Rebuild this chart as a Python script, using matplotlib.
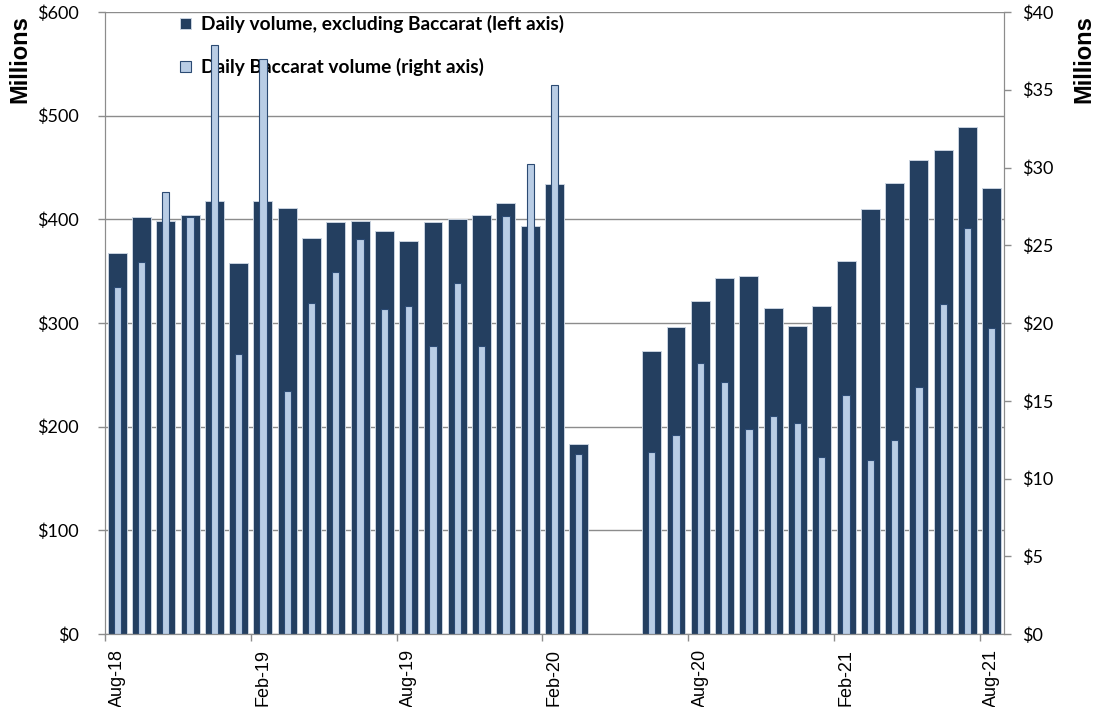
import numpy as np
import pandas as pd
import matplotlib
matplotlib.use("Agg")
import matplotlib.pyplot as plt
from matplotlib.ticker import FuncFormatter

# monthly categories Aug-18 .. Aug-21
months = pd.date_range("2018-08-01", "2021-08-01", freq="MS").strftime("%b-%y").tolist()

# daily volume excluding Baccarat, $ millions (left axis); Apr/May-20 closed
vol_ex_bacc = [368, 402, 398, 404, 418, 358, 418, 411, 382, 397, 398, 389, 379,
               397, 400, 404, 416, 394, 434, 183, np.nan, np.nan,
               273, 296, 321, 343, 345, 314, 297, 316, 360, 410, 435, 457, 467, 489, 430]
# daily Baccarat volume, $ millions (right axis)
vol_bacc = [22.3, 23.9, 28.4, 26.8, 37.9, 18.0, 37.0, 15.6, 21.3, 23.3, 25.4, 20.9, 21.1,
            18.5, 22.6, 18.5, 26.9, 30.2, 35.3, 11.6, np.nan, np.nan,
            11.7, 12.8, 17.4, 16.2, 13.2, 14.0, 13.6, 11.4, 15.4, 11.2, 12.5, 15.9, 21.2, 26.1, 19.7]

left_ticks = [0, 100, 200, 300, 400, 500, 600]
right_ticks = [0, 5, 10, 15, 20, 25, 30, 35, 40]

dark = "#243F60"
light = "#B9CDE5"
grey = "#8C8C8C"

fig = plt.figure(figsize=(10.99, 7.07), dpi=100)
ax = fig.add_axes([105/1099, 1-634/707, 899/1099, 622/707])
ax2 = ax.twinx()

x = np.arange(len(months))
b1 = ax.bar(x, vol_ex_bacc, width=0.78, color=dark, edgecolor="#C9D3E0", linewidth=0.7, zorder=2,
            label="Daily volume, excluding Baccarat (left axis)")
b2 = ax2.bar(x, vol_bacc, width=0.30, color=light, edgecolor="#2B4A73", linewidth=0.8, zorder=2,
             label="Daily Baccarat volume (right axis)")

ax.set_xlim(-0.5, len(months) - 0.5)
ax.set_ylim(0, 600)
ax2.set_ylim(0, 40)
ax.set_yticks(left_ticks)
ax2.set_yticks(right_ticks)
ax.yaxis.set_major_formatter(FuncFormatter(lambda v, p: f"${v:.0f}"))
ax2.yaxis.set_major_formatter(FuncFormatter(lambda v, p: f"${v:.0f}"))

ax.set_axisbelow(True)
ax.grid(axis="y", color=grey, linewidth=1.0)

# tick marks on month boundaries (minor), labels under the month (major, no mark)
step = 6
ax.set_xticks(np.arange(0, len(months), step) - 0.5, minor=True)
ax.set_xticks(np.arange(0, len(months), step))
ax.set_xticklabels([months[i] for i in range(0, len(months), step)], rotation=90,
                   fontsize=13, family="Liberation Sans", ha="center", va="top")

for a in (ax, ax2):
    for s in a.spines.values():
        s.set_color(grey)
    a.spines["top"].set_visible(False)
    a.tick_params(colors=grey, length=5, width=1)
ax.tick_params(axis="x", which="minor", colors=grey, length=5, width=1)
ax.tick_params(axis="x", which="major", length=0, labelcolor="black", pad=11)
ax.tick_params(axis="y", labelcolor="black", labelsize=13, pad=14)
ax2.tick_params(axis="y", labelcolor="black", labelsize=13, pad=8)
for lab in ax.get_yticklabels() + ax2.get_yticklabels():
    lab.set_family("Lato")

fig.text(8/1099, 1-15/707, "Millions", rotation=90, ha="left", va="top",
         fontsize=17, fontweight="bold", family="Liberation Sans")
fig.text(1072/1099, 1-15/707, "Millions", rotation=90, ha="left", va="top",
         fontsize=17, fontweight="bold", family="Liberation Sans")

leg = ax.legend(handles=[b1, b2], loc="upper left", bbox_to_anchor=(180/1099, 1-15/707),
                bbox_transform=fig.transFigure, frameon=False,
                prop={"family": "Lato", "weight": "bold", "size": 13.8},
                handlelength=0.55, handleheight=0.55, handletextpad=0.55, labelspacing=1.3,
                borderaxespad=0, borderpad=0)
leg.set_zorder(1)

fig.savefig("out.png", dpi=100)
